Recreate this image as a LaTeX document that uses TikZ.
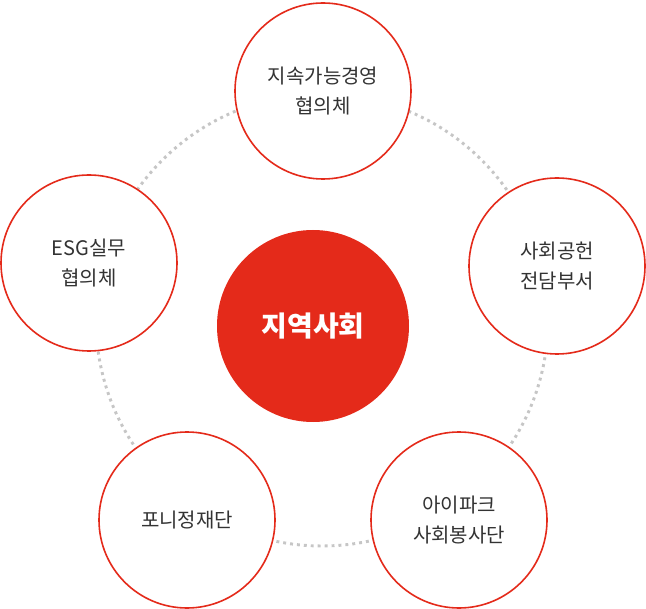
\documentclass[tikz,border=0pt]{standalone}
\usepackage{fontspec}
\setmainfont{Noto Sans CJK KR}
\definecolor{red1}{HTML}{E42A1A}
\begin{document}
\begin{tikzpicture}[x=0.75pt,y=-0.75pt,
 outer/.style={circle,draw=red1,line width=1.2pt,fill=white,minimum size=176*0.75pt,align=center,font=\fontsize{15}{23}\selectfont,text=black!80},
 inner/.style={circle,fill=red1,minimum size=192*0.75pt,text=white,font=\fontsize{21}{25}\selectfont\bfseries}]
\useasboundingbox (0,0) rectangle (646,609);
\coordinate (o) at (322,320);
\draw[gray!45,line width=2.2pt,dash pattern=on 2.2pt off 3pt] (o) circle[radius=226*0.75pt];
\node[inner] (c) at (313,326) {지역사회};
\node[outer] (t) at (323,91) {지속가능경영\\협의체};
\node[outer] (r) at (557,266) {사회공헌\\전담부서};
\node[outer] (br) at (459,520) {아이파크\\사회봉사단};
\node[outer] (bl) at (187,520) {포니정재단};
\node[outer] (l) at (89,263) {ESG실무\\협의체};
\end{tikzpicture}
\end{document}
